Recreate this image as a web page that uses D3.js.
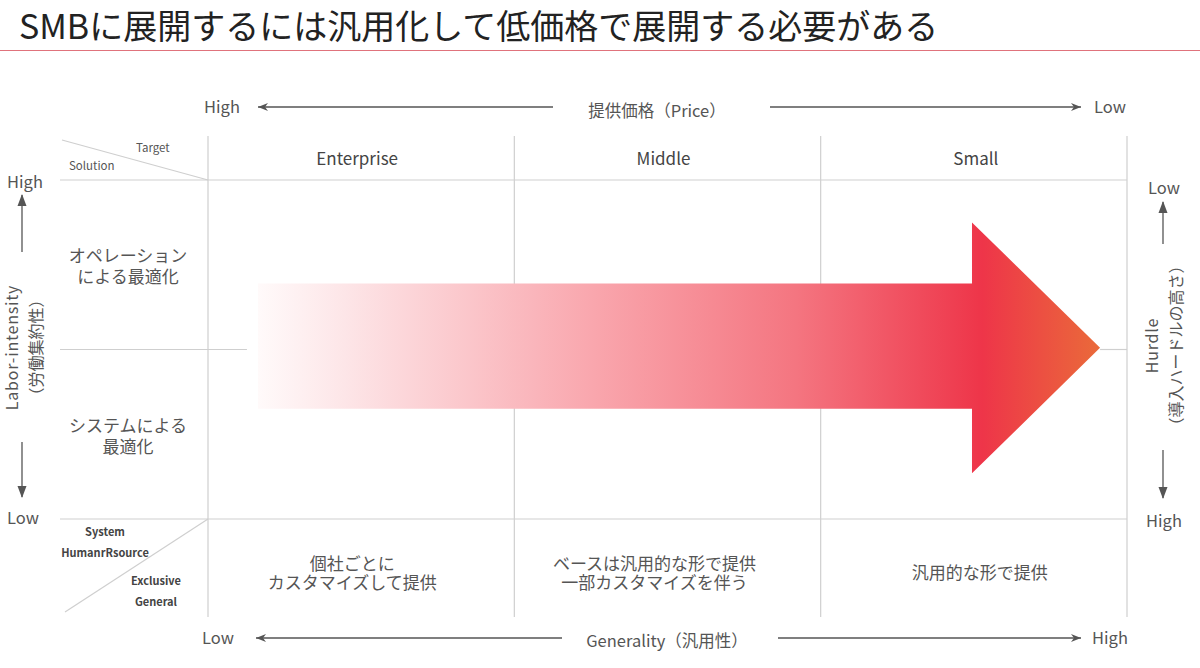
<!DOCTYPE html>
<html>
<head>
<meta charset="utf-8">
<script src="https://cdn.jsdelivr.net/npm/d3@7"></script>
<style>
  body { margin: 0; background: #fff; }
  svg { display: block; }
  text { font-family: "Noto Sans CJK JP", "Noto Sans", sans-serif; }
</style>
</head>
<body>
<div id="chart"></div>
<script>
// ---- chart content ----
const title = "SMBに展開するには汎用化して低価格で展開する必要がある";
const columns = ["Enterprise", "Middle", "Small"];
const rowLabels = [["オペレーション", "による最適化"], ["システムによる", "最適化"]];
const cellTexts = [
    ["個社ごとに", "カスタマイズして提供"],
    ["ベースは汎用的な形で提供", "一部カスタマイズを伴う"],
    ["汎用的な形で提供"]
];
const topAxis = { name: "提供価格（Price）", left: "High", right: "Low" };
const bottomAxis = { name: "Generality（汎用性）", left: "Low", right: "High" };
const leftAxis = { name: ["Labor-intensity", "（労働集約性）"], top: "High", bottom: "Low" };
const rightAxis = { name: ["Hurdle", "（導入ハードルの高さ）"], top: "Low", bottom: "High" };
const cornerTop = ["Target", "Solution"];
const cornerBottom = ["System", "HumanrRsource", "Exclusive", "General"];

// arrow outline in grid units: x = column position (0..3), y = row position (0..2)
const arrowX = [0.163, 2.494, 2.494, 2.912, 2.494, 2.494, 0.163];
const arrowY = [0.61, 0.61, 0.25, 0.99, 1.73, 1.35, 1.35];

const width = 1200, height = 668;
const latin = "'Noto Sans', 'Noto Sans CJK JP', sans-serif";

const svg = d3.select("#chart")
    .append("svg")
    .attr("width", width)
    .attr("height", height);

// scales for the grid
const x = d3.scaleLinear().domain([0, 3]).range([208, 1127]);
const y = d3.scaleLinear().domain([0, 2]).range([180, 519]);
const gridTop = 136, gridBottom = 617, gridLeft = 60;

// title and red rule
svg.append("text")
    .attr("x", 19)
    .attr("y", 39)
    .attr("font-size", 34)
    .attr("fill", "#222")
    .text(title);

svg.append("line")
    .attr("x1", 0).attr("x2", width)
    .attr("y1", 50.5).attr("y2", 50.5)
    .attr("stroke", "#e0737c")
    .attr("stroke-width", 1.2);

// arrow markers
const defs = svg.append("defs");
defs.append("marker")
    .attr("id", "chev")
    .attr("viewBox", "0 0 12 10")
    .attr("refX", 11).attr("refY", 5)
    .attr("markerWidth", 12).attr("markerHeight", 10)
    .attr("markerUnits", "userSpaceOnUse")
    .attr("orient", "auto")
    .append("path")
    .attr("d", "M1,1 L11,5 L1,9 L4,5 Z")
    .attr("fill", "#555");
defs.append("marker")
    .attr("id", "tri")
    .attr("viewBox", "0 0 12 10")
    .attr("refX", 11).attr("refY", 5)
    .attr("markerWidth", 12).attr("markerHeight", 10)
    .attr("markerUnits", "userSpaceOnUse")
    .attr("orient", "auto")
    .append("path")
    .attr("d", "M0,0.5 L12,5 L0,9.5 Z")
    .attr("fill", "#555");

const grad = defs.append("linearGradient")
    .attr("id", "arrowGrad")
    .attr("gradientUnits", "userSpaceOnUse")
    .attr("x1", x(arrowX[0])).attr("x2", x(arrowX[3]))
    .attr("y1", 0).attr("y2", 0);
[[0, "#fffafa"], [0.1, "#fde6e8"], [0.4, "#f9a6ad"], [0.64, "#f47580"], [0.86, "#ee3549"], [1, "#ea6a3a"]]
    .forEach(s => grad.append("stop").attr("offset", s[0]).attr("stop-color", s[1]));

// grid lines
const gridColor = "#cfcfcf";
const g = svg.append("g").attr("stroke", gridColor).attr("stroke-width", 1.2);
[0, 1, 2, 3].forEach(i => {
    g.append("line")
        .attr("x1", x(i)).attr("x2", x(i))
        .attr("y1", gridTop).attr("y2", gridBottom);
});
[0, 2].forEach(j => {
    g.append("line")
        .attr("x1", gridLeft).attr("x2", x(3))
        .attr("y1", y(j)).attr("y2", y(j));
});
// middle line only visible outside the arrow
g.append("line")
    .attr("x1", gridLeft).attr("x2", x(arrowX[0]) - 11)
    .attr("y1", y(1)).attr("y2", y(1));
g.append("line")
    .attr("x1", x(arrowX[3])).attr("x2", x(3))
    .attr("y1", y(1)).attr("y2", y(1));
// corner diagonals
g.append("line")
    .attr("x1", 62).attr("y1", 140)
    .attr("x2", x(0)).attr("y2", y(0));
g.append("line")
    .attr("x1", 65).attr("y1", 612)
    .attr("x2", x(0)).attr("y2", y(2));

// the big arrow
svg.append("path")
    .datum(arrowX.map((v, i) => [x(v), y(arrowY[i])]))
    .attr("d", d3.line())
    .attr("fill", "url(#arrowGrad)");

// column headers
const colShift = [-4, -4, 2];
svg.selectAll(".col")
    .data(columns)
    .enter()
    .append("text")
    .attr("x", (d, i) => x(i + 0.5) + colShift[i])
    .attr("y", 165)
    .attr("text-anchor", "middle")
    .attr("font-family", latin)
    .attr("font-size", 17)
    .attr("fill", "#444")
    .text(d => d);

// multi-line text as one element with tspans
function block(cx, firstBaseline, lines, size, lineGap) {
    const t = svg.append("text")
        .attr("text-anchor", "middle")
        .attr("font-size", size)
        .attr("fill", "#555");
    lines.forEach((s, k) => {
        t.append("tspan")
            .attr("x", cx)
            .attr("y", firstBaseline + k * lineGap)
            .text(s);
    });
    return t;
}

// row headers
rowLabels.forEach((lines, r) => {
    block(128, y(r + 0.5) - 2.5, lines, 17, 21);
});

// bottom row cell texts
const cellShift = [-9, -13, 6];
cellTexts.forEach((lines, c) => {
    block(x(c + 0.5) + cellShift[c], 579 - (lines.length - 1) * 9.5, lines, 17, 19);
});

// corner labels
svg.append("text").attr("x", 136).attr("y", 152)
    .attr("font-family", latin).attr("font-size", 11.5).attr("fill", "#555").text(cornerTop[0]);
svg.append("text").attr("x", 69).attr("y", 170)
    .attr("font-family", latin).attr("font-size", 11.5).attr("fill", "#555").text(cornerTop[1]);
const cbPos = [[105, 536], [105, 557], [156, 585], [156, 606]];
cornerBottom.forEach((t, i) => {
    svg.append("text")
        .attr("x", cbPos[i][0]).attr("y", cbPos[i][1])
        .attr("text-anchor", "middle")
        .attr("font-family", latin)
        .attr("font-size", 11)
        .attr("font-weight", "bold")
        .attr("fill", "#444")
        .text(t);
});

// axis helpers
function label(tx, ty, t, size) {
    return svg.append("text")
        .attr("x", tx).attr("y", ty)
        .attr("text-anchor", "middle")
        .attr("font-size", size || 16.5)
        .attr("fill", "#555")
        .text(t);
}
function arrow(x1, y1, x2, y2, marker) {
    svg.append("line")
        .attr("x1", x1).attr("y1", y1).attr("x2", x2).attr("y2", y2)
        .attr("stroke", "#555").attr("stroke-width", 1.3)
        .attr("marker-end", `url(#${marker})`);
}

// top axis (price)
label(222, 113, topAxis.left).attr("font-family", latin);
arrow(553, 107, 258, 107, "chev");
label(657, 117, topAxis.name);
arrow(770, 107, 1081, 107, "chev");
label(1110, 113, topAxis.right).attr("font-family", latin);

// bottom axis (generality)
label(218, 644, bottomAxis.left).attr("font-family", latin);
arrow(562, 638, 256, 638, "chev");
label(667, 647, bottomAxis.name);
arrow(778, 638, 1081, 638, "chev");
label(1110, 644, bottomAxis.right).attr("font-family", latin);

// left axis (labor intensity)
label(25, 188, leftAxis.top).attr("font-family", latin);
arrow(22, 252, 22, 195, "tri");
arrow(22, 442, 22, 497, "tri");
label(23, 524, leftAxis.bottom).attr("font-family", latin);
leftAxis.name.forEach((t, i) => {
    svg.append("text")
        .attr("transform", `translate(${18 + i * 24},${y(1) - 2}) rotate(-90)`)
        .attr("text-anchor", "middle")
        .attr("font-size", 16)
        .attr("letter-spacing", i === 0 ? 0.8 : 0)
        .attr("fill", "#555")
        .text(t);
});

// right axis (hurdle)
label(1164, 194, rightAxis.top).attr("font-family", latin);
arrow(1163, 244, 1163, 202, "tri");
arrow(1163, 450, 1163, 498, "tri");
label(1164, 527, rightAxis.bottom).attr("font-family", latin);
rightAxis.name.forEach((t, i) => {
    svg.append("text")
        .attr("transform", `translate(${1158 + i * 24},${y(1) - 4}) rotate(-90)`)
        .attr("text-anchor", "middle")
        .attr("font-size", 16)
        .attr("letter-spacing", i === 0 ? 0.8 : 0)
        .attr("fill", "#555")
        .text(t);
});
</script>
</body>
</html>
